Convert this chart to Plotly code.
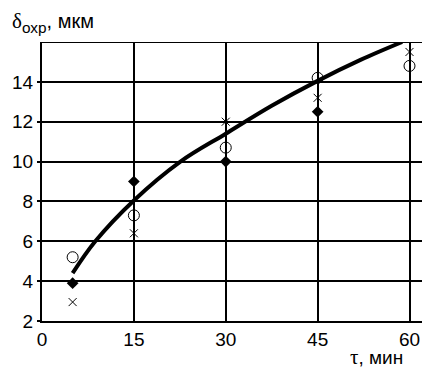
import plotly.graph_objects as go

# Измеренная глубина охрупчивания (мкм) от времени τ (мин)
tau = [5, 15, 30, 45, 60]
series_diamond = [3.9, 9.0, 10.0, 12.5, None]
series_circle = [5.2, 7.3, 10.7, 14.2, 14.8]
series_cross = [2.95, 6.4, 12.0, 13.2, 15.5]

# Сглаживающая кривая (опорные точки)
curve_tau = [5, 8.7, 15, 22.6, 30, 37.5, 45, 52, 58.8]
curve_delta = [4.4, 6.0, 8.05, 10.0, 11.4, 12.8, 14.05, 15.1, 16.0]

x_ticks = [0, 15, 30, 45, 60]
y_ticks = [2, 4, 6, 8, 10, 12, 14]

FONT = "Liberation Sans, Arial, sans-serif"
SERIF = "Liberation Serif, serif"

fig = go.Figure()

fig.add_trace(go.Scatter(
    x=curve_tau, y=curve_delta, mode="lines",
    line=dict(color="black", width=4, shape="spline", smoothing=1.0),
    showlegend=False, cliponaxis=False,
))
fig.add_trace(go.Scatter(
    x=tau, y=series_circle, mode="markers",
    marker=dict(symbol="circle-open", size=11, color="black", line=dict(width=1)),
    showlegend=False, cliponaxis=False,
))
fig.add_trace(go.Scatter(
    x=tau, y=series_cross, mode="markers",
    marker=dict(symbol="x-thin-open", size=8, color="black", line=dict(width=1)),
    showlegend=False, cliponaxis=False,
))
fig.add_trace(go.Scatter(
    x=tau, y=series_diamond, mode="markers",
    marker=dict(symbol="diamond", size=9, color="black"),
    showlegend=False, cliponaxis=False,
))

# верхняя граница поля графика
fig.add_shape(type="line", xref="paper", yref="y", x0=0, x1=1, y0=16, y1=16,
              line=dict(color="black", width=2), layer="below")

fig.update_xaxes(
    range=[0, 62.04], tickvals=x_ticks, ticktext=[str(v) for v in x_ticks],
    showgrid=True, gridcolor="black", gridwidth=2,
    showline=True, linecolor="black", linewidth=2,
    zeroline=False, ticks="", ticklen=0,
    tickfont=dict(family=FONT, size=19, color="black"),
)
fig.update_yaxes(
    range=[2, 16], tickvals=y_ticks, ticktext=[str(v) for v in y_ticks],
    showgrid=True, gridcolor="black", gridwidth=2,
    showline=True, linecolor="black", linewidth=2,
    zeroline=False, ticks="outside", ticklen=3, tickwidth=2, tickcolor="black",
    tickfont=dict(family=FONT, size=19, color="black"),
)

fig.add_annotation(
    xref="paper", yref="paper", x=-0.085, y=1.07, xanchor="left", yanchor="middle",
    text=f'<span style="font-family:{SERIF};font-size:21px">δ</span>'
         '<sub>охр</sub><span style="font-size:20px">, мкм</span>',
    showarrow=False, font=dict(family=FONT, size=22, color="black"),
)
fig.add_annotation(
    xref="paper", yref="paper", x=0.956, y=-0.13, xanchor="right", yanchor="middle",
    text=f'<span style="font-family:{SERIF};font-size:21px">τ</span>, мин',
    showarrow=False, font=dict(family=FONT, size=19, color="black"),
)

fig.update_layout(
    width=422, height=370,
    margin=dict(l=42, r=0, t=42, b=49),
    paper_bgcolor="white", plot_bgcolor="white",
)

fig.write_html("out.html")
